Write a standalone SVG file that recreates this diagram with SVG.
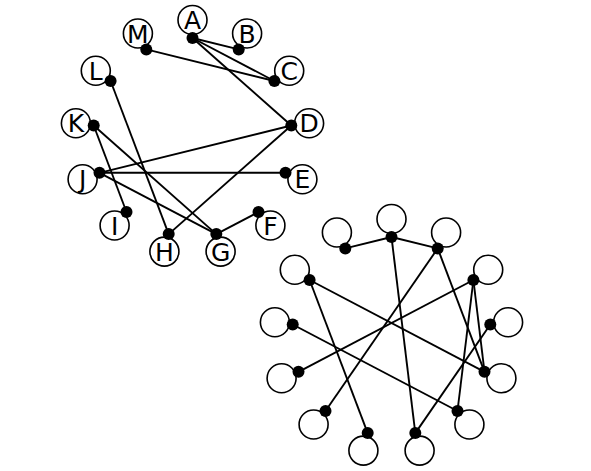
<svg xmlns="http://www.w3.org/2000/svg" width="591" height="471" viewBox="0 0 591 471">
<style>
.ring{fill:#fff;stroke:#000;stroke-width:1.6}
.dot{fill:#000}
.edge{stroke:#000;stroke-width:1.9;fill:none}
.lbl{font-family:"DejaVu Sans",sans-serif;font-size:25px;text-anchor:middle;fill:#000}
</style>
<rect width="591" height="471" fill="#fff"/>
<g id="connectors-top" class="edge">
<line x1="192.5" y1="38" x2="238.7" y2="49.4"/>
<line x1="192.5" y1="38" x2="274.4" y2="81"/>
<line x1="192.5" y1="38" x2="291.3" y2="125.5"/>
<line x1="146.3" y1="49.4" x2="274.4" y2="81"/>
<line x1="110.6" y1="81" x2="168.7" y2="234.1"/>
<line x1="93.7" y1="125.5" x2="126.5" y2="212"/>
<line x1="93.7" y1="125.5" x2="216.3" y2="234.1"/>
<line x1="99.5" y1="172.8" x2="291.3" y2="125.5"/>
<line x1="99.5" y1="172.8" x2="285.5" y2="172.8"/>
<line x1="99.5" y1="172.8" x2="216.3" y2="234.1"/>
<line x1="291.3" y1="125.5" x2="168.7" y2="234.1"/>
<line x1="216.3" y1="234.1" x2="258.5" y2="212"/>
</g>
<g id="A"><circle class="ring" cx="192.5" cy="20" r="14.5"/><text class="lbl" x="192.5" y="29">A</text><circle class="dot" cx="192.5" cy="38" r="6"/></g>
<g id="B"><circle class="ring" cx="247.1" cy="33.5" r="14.5"/><text class="lbl" x="247.1" y="42.5">B</text><circle class="dot" cx="238.7" cy="49.4" r="6"/></g>
<g id="C"><circle class="ring" cx="289.2" cy="70.7" r="14.5"/><text class="lbl" x="289.2" y="79.7">C</text><circle class="dot" cx="274.4" cy="81" r="6"/></g>
<g id="D"><circle class="ring" cx="309.1" cy="123.3" r="14.5"/><text class="lbl" x="309.1" y="132.3">D</text><circle class="dot" cx="291.3" cy="125.5" r="6"/></g>
<g id="E"><circle class="ring" cx="302.4" cy="179.2" r="14.5"/><text class="lbl" x="302.4" y="188.2">E</text><circle class="dot" cx="285.5" cy="172.8" r="6"/></g>
<g id="F"><circle class="ring" cx="270.4" cy="225.5" r="14.5"/><text class="lbl" x="270.4" y="234.5">F</text><circle class="dot" cx="258.5" cy="212" r="6"/></g>
<g id="G"><circle class="ring" cx="220.6" cy="251.6" r="14.5"/><text class="lbl" x="220.6" y="260.6">G</text><circle class="dot" cx="216.3" cy="234.1" r="6"/></g>
<g id="H"><circle class="ring" cx="164.4" cy="251.6" r="14.5"/><text class="lbl" x="164.4" y="260.6">H</text><circle class="dot" cx="168.7" cy="234.1" r="6"/></g>
<g id="I"><circle class="ring" cx="114.6" cy="225.5" r="14.5"/><text class="lbl" x="114.6" y="234.5">I</text><circle class="dot" cx="126.5" cy="212" r="6"/></g>
<g id="J"><circle class="ring" cx="82.6" cy="179.2" r="14.5"/><text class="lbl" x="82.6" y="188.2">J</text><circle class="dot" cx="99.5" cy="172.8" r="6"/></g>
<g id="K"><circle class="ring" cx="75.9" cy="123.3" r="14.5"/><text class="lbl" x="75.9" y="132.3">K</text><circle class="dot" cx="93.7" cy="125.5" r="6"/></g>
<g id="L"><circle class="ring" cx="95.8" cy="70.7" r="14.5"/><text class="lbl" x="95.8" y="79.7">L</text><circle class="dot" cx="110.6" cy="81" r="6"/></g>
<g id="M"><circle class="ring" cx="137.9" cy="33.5" r="14.5"/><text class="lbl" x="137.9" y="42.5">M</text><circle class="dot" cx="146.3" cy="49.4" r="6"/></g>
<g transform="translate(199,199)">
<g id="connectors-bottom" class="edge">
<line x1="146.3" y1="49.4" x2="192.5" y2="38"/>
<line x1="192.5" y1="38" x2="238.7" y2="49.4"/>
<line x1="192.5" y1="38" x2="216.3" y2="234.1"/>
<line x1="238.7" y1="49.4" x2="126.5" y2="212"/>
<line x1="238.7" y1="49.4" x2="285.5" y2="172.8"/>
<line x1="274.4" y1="81" x2="99.5" y2="172.8"/>
<line x1="274.4" y1="81" x2="258.5" y2="212"/>
<line x1="274.4" y1="81" x2="285.5" y2="172.8"/>
<line x1="291.3" y1="125.5" x2="216.3" y2="234.1"/>
<line x1="110.6" y1="81" x2="168.7" y2="234.1"/>
<line x1="110.6" y1="81" x2="285.5" y2="172.8"/>
<line x1="93.7" y1="125.5" x2="258.5" y2="212"/>
</g>
<g id="n0"><circle class="ring" cx="192.5" cy="20" r="14.5"/><circle class="dot" cx="192.5" cy="38" r="6"/></g>
<g id="n1"><circle class="ring" cx="247.1" cy="33.5" r="14.5"/><circle class="dot" cx="238.7" cy="49.4" r="6"/></g>
<g id="n2"><circle class="ring" cx="289.2" cy="70.7" r="14.5"/><circle class="dot" cx="274.4" cy="81" r="6"/></g>
<g id="n3"><circle class="ring" cx="309.1" cy="123.3" r="14.5"/><circle class="dot" cx="291.3" cy="125.5" r="6"/></g>
<g id="n4"><circle class="ring" cx="302.4" cy="179.2" r="14.5"/><circle class="dot" cx="285.5" cy="172.8" r="6"/></g>
<g id="n5"><circle class="ring" cx="270.4" cy="225.5" r="14.5"/><circle class="dot" cx="258.5" cy="212" r="6"/></g>
<g id="n6"><circle class="ring" cx="220.6" cy="251.6" r="14.5"/><circle class="dot" cx="216.3" cy="234.1" r="6"/></g>
<g id="n7"><circle class="ring" cx="164.4" cy="251.6" r="14.5"/><circle class="dot" cx="168.7" cy="234.1" r="6"/></g>
<g id="n8"><circle class="ring" cx="114.6" cy="225.5" r="14.5"/><circle class="dot" cx="126.5" cy="212" r="6"/></g>
<g id="n9"><circle class="ring" cx="82.6" cy="179.2" r="14.5"/><circle class="dot" cx="99.5" cy="172.8" r="6"/></g>
<g id="n10"><circle class="ring" cx="75.9" cy="123.3" r="14.5"/><circle class="dot" cx="93.7" cy="125.5" r="6"/></g>
<g id="n11"><circle class="ring" cx="95.8" cy="70.7" r="14.5"/><circle class="dot" cx="110.6" cy="81" r="6"/></g>
<g id="n12"><circle class="ring" cx="137.9" cy="33.5" r="14.5"/><circle class="dot" cx="146.3" cy="49.4" r="6"/></g>
</g>
</svg>
